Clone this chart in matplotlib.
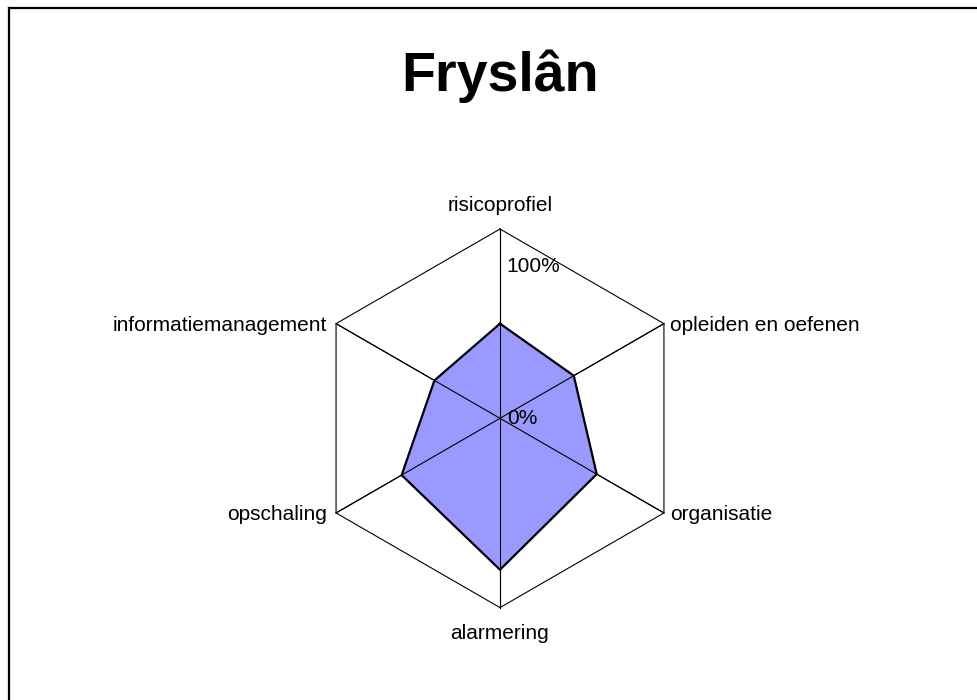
import numpy as np
import matplotlib.pyplot as plt
from matplotlib.lines import Line2D

plt.rcParams['font.family'] = ['Liberation Sans', 'DejaVu Sans']

categories = ["risicoprofiel", "opleiden en oefenen", "organisatie",
              "alarmering", "opschaling", "informatiemanagement"]
values = [0.50, 0.45, 0.59, 0.80, 0.60, 0.40]
tick_labels = ["0%", "100%"]

n = len(categories)
# clockwise from the top
angles = np.pi / 2 - np.arange(n) * 2 * np.pi / n
cx, cy = np.cos(angles), np.sin(angles)

fig = plt.figure(figsize=(9.78, 7.0), dpi=100)

# outer frame (left and top edge only visible)
fig.add_artist(Line2D([9 / 978, 9 / 978], [-0.1, 1 - 8 / 700], transform=fig.transFigure,
                      color="black", lw=1.6))
fig.add_artist(Line2D([9 / 978, 1.1], [1 - 8 / 700, 1 - 8 / 700], transform=fig.transFigure,
                      color="black", lw=1.6))

fig.text(500 / 978, 1 - 76 / 700, "Fryslân", ha="center", va="center",
         fontsize=40, fontweight="bold")

half = 200
ax = fig.add_axes([(500 - half) / 978, (700 - 418.3 - half) / 700, 2 * half / 978, 2 * half / 700])
lim = half / 189.3
ax.set_xlim(-lim, lim)
ax.set_ylim(-lim, lim)
ax.axis("off")

# spokes and outer hexagon
for x, y in zip(cx, cy):
    ax.plot([0, x], [0, y], color="black", lw=0.8)
ax.plot(np.append(cx, cx[0]), np.append(cy, cy[0]), color="black", lw=0.8)

# data polygon
v = np.array(values)
px, py = cx * v, cy * v
ax.fill(px, py, color="#9999ff", zorder=2)
ax.plot(np.append(px, px[0]), np.append(py, py[0]), color="black", lw=1.6, zorder=3)
for x, y in zip(cx, cy):
    ax.plot([0, x], [0, y], color="black", lw=0.8, zorder=4)

# axis labels
for lab, x, y in zip(categories, cx, cy):
    if abs(x) < 1e-6:
        if y > 0:
            ax.annotate(lab, (x, y), xytext=(0, 14), textcoords="offset pixels",
                        ha="center", va="bottom", fontsize=15)
        else:
            ax.annotate(lab, (x, y), xytext=(0, -16), textcoords="offset pixels",
                        ha="center", va="top", fontsize=15)
    elif x > 0:
        ax.annotate(lab, (x, y), xytext=(6, -2), textcoords="offset pixels",
                    ha="left", va="center", fontsize=15)
    else:
        ax.annotate(lab, (x, y), xytext=(-9, -2), textcoords="offset pixels",
                    ha="right", va="center", fontsize=15)

ax.text(0.035, 0.0, tick_labels[0], ha="left", va="center", fontsize=15, zorder=5)
ax.text(0.035, 0.80, tick_labels[1], ha="left", va="center", fontsize=15, zorder=5)

fig.savefig("out.png", dpi=100)
